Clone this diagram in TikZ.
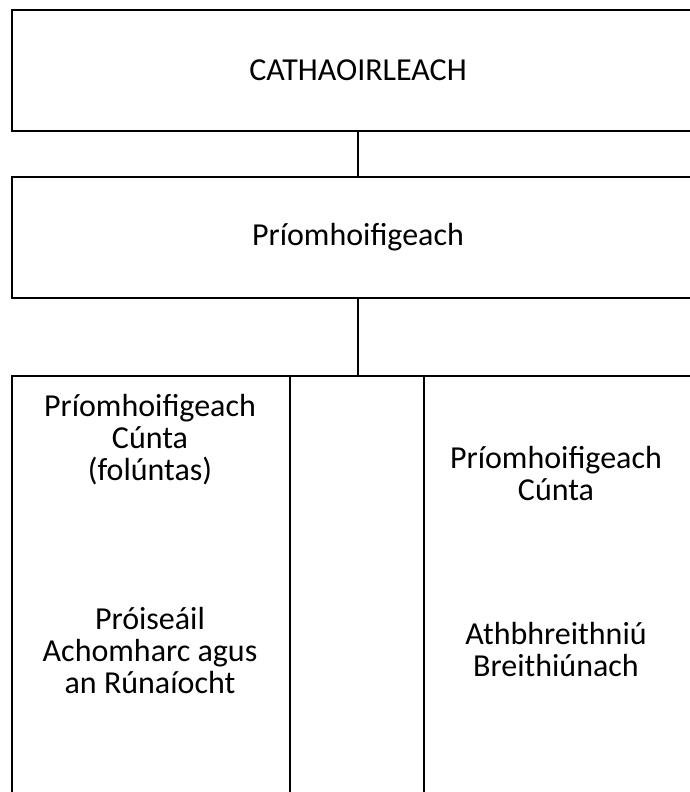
\documentclass[tikz,border=0pt]{standalone}
\usepackage{fontspec}
\setmainfont{Carlito}
\usetikzlibrary{positioning}
\tikzset{
    orgbox/.style={draw, line width=2.8pt, minimum width=692pt, minimum height=121pt, inner sep=0pt, outer sep=0pt},
    cell/.style={draw, line width=2pt, anchor=north west, minimum height=440pt, inner sep=0pt, outer sep=0pt},
    lbl/.style={align=center, font=\fontsize{32}{32}\selectfont, inner sep=0pt}
}
\begin{document}
\begin{tikzpicture}
            \useasboundingbox (0,0) rectangle (690pt,-792pt);
            \clip (0,0) rectangle (690pt,-792pt);
            % top of the chart
            \node[orgbox] (chair) at (358pt,-70.5pt) {};
            \node[lbl] (chairtxt) at (chair.center) {CATHAOIRLEACH};
            \node[orgbox, below=46pt of chair] (ceo) {};
            \node[lbl] (ceotxt) at (ceo.center) {Príomhoifigeach};
            % table of the assistant officers
            \node[cell, minimum width=278pt] (left) at (12pt,-376pt) {};
            \node[cell, minimum width=134pt] (mid) at (left.north east) {};
            \node[cell, minimum width=280pt] (right) at (mid.north east) {};
            \draw[line width=2.6pt] (chair.south) -- (ceo.north);
            \draw[line width=2.6pt] (ceo.south) -- (ceo.south |- left.north);
            \node[lbl] (aco) at (150pt,-440pt) {Príomhoifigeach\\Cúnta\\(folúntas)};
            \node[lbl] (appeals) at (150pt,-650pt) {Próiseáil\\Achomharc agus\\an Rúnaíocht};
            \node[lbl] (acotwo) at (556pt,-474pt) {Príomhoifigeach\\Cúnta};
            \node[lbl] (review) at (556pt,-649pt) {Athbhreithniú\\Breithiúnach};
\end{tikzpicture}
\end{document}
